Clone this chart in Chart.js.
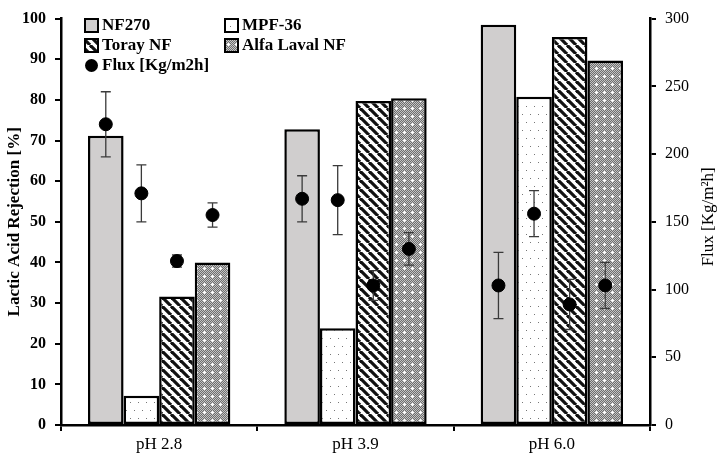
<!DOCTYPE html>
<html lang="en">
    <head>
        <meta charset="UTF-8">
        <title>Lactic Acid Rejection</title>
        <script src="https://cdn.jsdelivr.net/npm/chart.js@4.4.0/dist/chart.umd.min.js"></script>
        <style>
            body { margin: 0; background: #fff; }
            #wrap { width: 721px; height: 467px; }
        </style>
    </head>
    <body>
        <div id="wrap"><canvas id="rejectionChart"></canvas></div>
        <script>
            // data
            var categories = ['pH 2.8', 'pH 3.9', 'pH 6.0'];
            var membranes = ['NF270', 'MPF-36', 'Toray NF', 'Alfa Laval NF'];

            // rejection [%] (left axis)
            var nf270 = [71.2, 72.8, 98.5];
            var mpf36 = [7.2, 23.8, 80.8];
            var toray = [31.6, 79.7, 95.5];
            var alfa = [40.0, 80.4, 89.7];

            // flux [Kg/m2h] (right axis) and error bar half-length
            var fluxNF270 = [222, 167, 103];
            var fluxMPF36 = [171, 166, 156];
            var fluxToray = [121, 103, 89];
            var fluxAlfa = [155, 130, 103];
            var errNF270 = [24, 17, 24.5];
            var errMPF36 = [21, 25.5, 17];
            var errToray = [4.5, 11, 18.5];
            var errAlfa = [9, 12, 17];

            var canvas = document.getElementById('rejectionChart');
            var ctx = canvas.getContext('2d');
            var font = "'Liberation Serif', 'Times New Roman', serif";

            // small tiles for the bar fills
            function makePattern(size, draw) {
                var tile = document.createElement('canvas');
                tile.width = size;
                tile.height = size;
                draw(tile.getContext('2d'), size);
                return ctx.createPattern(tile, 'repeat');
            }

            var dotFill = makePattern(16, function(g, s) {
                g.fillStyle = '#fff';
                g.fillRect(0, 0, s, s);
                g.fillStyle = '#777';
                g.fillRect(2, 2, 1, 1);
                g.fillRect(10, 2, 1, 1);
                g.fillRect(6, 10, 1, 1);
                g.fillRect(14, 10, 1, 1);
            });

            var stripeFill = makePattern(9, function(g, s) {
                g.fillStyle = '#fff';
                g.fillRect(0, 0, s, s);
                g.strokeStyle = '#111';
                g.lineWidth = 3.2;
                for (var k = -1; k <= 1; k++) {
                    g.beginPath();
                    g.moveTo(k * s, 0);
                    g.lineTo(k * s + s, s);
                    g.stroke();
                }
            });

            var gridFill = makePattern(8, function(g, s) {
                for (var i = 0; i < s; i++) {
                    for (var j = 0; j < s; j++) {
                        g.fillStyle = (i + j) % 2 ? '#6e6e6e' : '#c4c4c4';
                        g.fillRect(i, j, 1, 1);
                    }
                }
                g.fillStyle = '#fff';
                g.fillRect(4, 3, 1, 3);
                g.fillRect(3, 4, 3, 1);
            });

            var fills = ['#d0cece', dotFill, stripeFill, gridFill];
            var rejection = [nf270, mpf36, toray, alfa];
            var flux = [fluxNF270, fluxMPF36, fluxToray, fluxAlfa];
            var errors = [errNF270, errMPF36, errToray, errAlfa];

            var datasets = [];
            for (var m = 0; m < membranes.length; m++) {
                datasets.push({
                    type: 'bar',
                    label: membranes[m],
                    data: rejection[m],
                    backgroundColor: fills[m],
                    borderColor: '#000',
                    borderWidth: 2.5,
                    borderSkipped: false,
                    categoryPercentage: 0.725,
                    barPercentage: 1.0,
                    yAxisID: 'y',
                    order: 2
                });
            }
            for (var m = 0; m < membranes.length; m++) {
                datasets.push({
                    type: 'line',
                    label: 'Flux [Kg/m2h]',
                    data: flux[m],
                    errors: errors[m],
                    barIndex: m,
                    showLine: false,
                    pointRadius: 6.5,
                    pointBackgroundColor: '#000',
                    pointBorderColor: '#000',
                    yAxisID: 'y1',
                    order: 1
                });
            }

            // put each flux point on top of its own bar, then draw the error bars
            var fluxPlugin = {
                id: 'fluxPoints',
                afterDatasetsUpdate: function(chart) {
                    chart.data.datasets.forEach(function(ds, i) {
                        if (ds.barIndex === undefined) return;
                        var bars = chart.getDatasetMeta(ds.barIndex).data;
                        chart.getDatasetMeta(i).data.forEach(function(pt, j) {
                            pt.x = bars[j].x;
                        });
                    });
                },
                // bars are drawn 3,2,1,0 then the points, so this sits between them
                afterDatasetDraw: function(chart, args) {
                    if (args.index !== 0) return;
                    var c = chart.ctx;
                    var y1 = chart.scales.y1;
                    c.save();
                    c.strokeStyle = '#3a3a3a';
                    c.lineWidth = 1.3;
                    chart.data.datasets.forEach(function(ds, i) {
                        if (ds.barIndex === undefined) return;
                        chart.getDatasetMeta(i).data.forEach(function(pt, j) {
                            var top = y1.getPixelForValue(ds.data[j] + ds.errors[j]);
                            var bot = y1.getPixelForValue(ds.data[j] - ds.errors[j]);
                            c.beginPath();
                            c.moveTo(pt.x, top);
                            c.lineTo(pt.x, bot);
                            c.moveTo(pt.x - 5, top);
                            c.lineTo(pt.x + 5, top);
                            c.moveTo(pt.x - 5, bot);
                            c.lineTo(pt.x + 5, bot);
                            c.stroke();
                        });
                    });
                    c.restore();
                }
            };

            // legend in two columns, and the right title reading bottom to top
            var legendPlugin = {
                id: 'gridLegend',
                afterDraw: function(chart) {
                    var c = chart.ctx;
                    var cols = [85, 225];
                    var rows = [25, 45, 65];
                    c.save();
                    c.font = 'bold 17px ' + font;
                    c.textBaseline = 'middle';
                    c.fillStyle = '#000';
                    for (var m = 0; m < membranes.length; m++) {
                        var x = cols[m % 2];
                        var y = rows[Math.floor(m / 2)];
                        c.fillStyle = fills[m];
                        c.fillRect(x, y - 6, 13, 13);
                        c.strokeStyle = '#000';
                        c.lineWidth = 2;
                        c.strokeRect(x, y - 6, 13, 13);
                        c.fillStyle = '#000';
                        c.fillText(membranes[m], x + 17, y + 1);
                    }
                    c.beginPath();
                    c.arc(cols[0] + 6.5, rows[2] + 0.5, 6.5, 0, Math.PI * 2);
                    c.fill();
                    c.fillText('Flux [Kg/m2h]', cols[0] + 17, rows[2] + 1);

                    var y1 = chart.scales.y1;
                    c.translate(y1.right - 12, (chart.chartArea.top + chart.chartArea.bottom) / 2 - 5);
                    c.rotate(-Math.PI / 2);
                    c.font = '17px ' + font;
                    c.textAlign = 'center';
                    c.fillText('Flux [Kg/m²h]', 0, 0);
                    c.restore();
                }
            };

            var rejectionChart = new Chart(ctx, {
                data: {
                    labels: categories,
                    datasets: datasets
                },
                options: {
                    responsive: true,
                    maintainAspectRatio: false,
                    animation: false,
                    layout: { padding: { top: 13, left: 0, right: 0, bottom: 0 } },
                    plugins: {
                        legend: { display: false },
                        tooltip: { enabled: false }
                    },
                    scales: {
                        x: {
                            grid: { display: true, drawOnChartArea: false, drawTicks: true, tickLength: 6, color: '#000', lineWidth: 2, offset: true },
                            border: { display: true, color: '#000', width: 2.5 },
                            ticks: { color: '#000', font: { family: font, size: 17 }, padding: 3 },
                            afterFit: function(scale) { scale.height = 42; }
                        },
                        y: {
                            position: 'left',
                            min: 0,
                            max: 100,
                            grid: { display: true, drawOnChartArea: false, drawTicks: true, tickLength: 6, color: '#000', lineWidth: 2 },
                            border: { display: true, color: '#000', width: 2.5 },
                            ticks: { stepSize: 10, color: '#000', font: { family: font, size: 16, weight: 'bold' }, padding: 9 },
                            title: {
                                display: true,
                                text: 'Lactic Acid Rejection [%]',
                                color: '#000',
                                font: { family: font, size: 17, weight: 'bold' },
                                padding: { top: 4, bottom: 0 }
                            },
                            afterFit: function(scale) { scale.width = 61; }
                        },
                        y1: {
                            position: 'right',
                            min: 0,
                            max: 300,
                            grid: { display: true, drawOnChartArea: false, drawTicks: true, tickLength: 6, color: '#000', lineWidth: 2 },
                            border: { display: true, color: '#000', width: 2.5 },
                            ticks: { stepSize: 50, color: '#000', font: { family: font, size: 16 }, padding: 9 },
                            afterFit: function(scale) { scale.width = 71; }
                        }
                    }
                },
                plugins: [fluxPlugin, legendPlugin]
            });
        </script>
    </body>
</html>
